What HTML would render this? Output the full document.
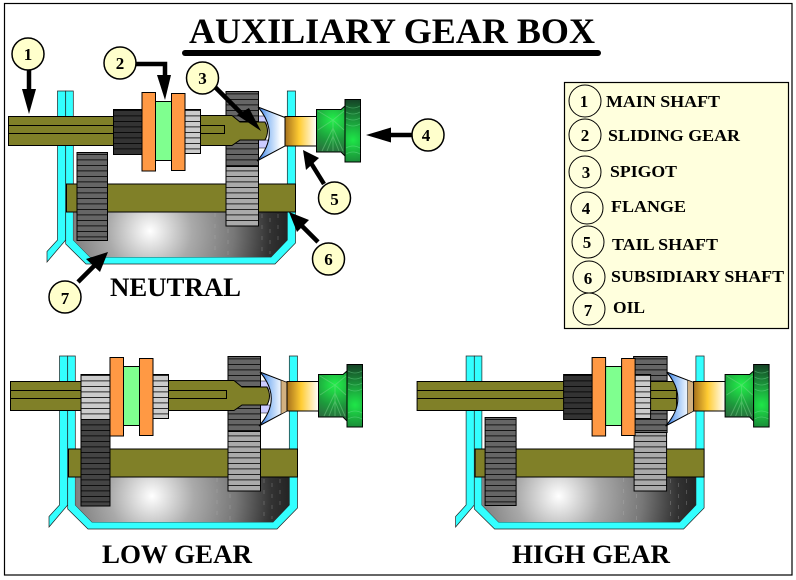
<!DOCTYPE html>
<html>
<head>
<meta charset="utf-8">
<style>
html,body{margin:0;padding:0;background:#fff;}
svg{display:block;}
text{font-family:"Liberation Serif",serif;font-weight:bold;fill:#000;}
</style>
</head>
<body>
<svg width="796" height="580" viewBox="0 0 796 580" xmlns="http://www.w3.org/2000/svg">
<defs>
  <pattern id="teeth" patternUnits="userSpaceOnUse" width="10" height="5.5">
    <rect x="0" y="0" width="10" height="0.8" fill="#000"/>
  </pattern>
  <radialGradient id="oilG" gradientUnits="userSpaceOnUse" cx="150" cy="231" r="140">
    <stop offset="0" stop-color="#ffffff"/>
    <stop offset="0.12" stop-color="#dddddd"/>
    <stop offset="0.3" stop-color="#aaaaaa"/>
    <stop offset="0.6" stop-color="#777777"/>
    <stop offset="0.85" stop-color="#333333"/>
    <stop offset="1" stop-color="#222222"/>
  </radialGradient>
  <linearGradient id="bellG" x1="0" y1="0" x2="1" y2="0">
    <stop offset="0" stop-color="#1a66dd"/>
    <stop offset="0.35" stop-color="#8fbcf5"/>
    <stop offset="0.85" stop-color="#ffffff"/>
    <stop offset="1" stop-color="#ffffff"/>
  </linearGradient>
  <linearGradient id="tailG" x1="0" y1="0" x2="1" y2="0">
    <stop offset="0" stop-color="#a5701c"/>
    <stop offset="0.45" stop-color="#ffcc33"/>
    <stop offset="1" stop-color="#ffffff"/>
  </linearGradient>
  <radialGradient id="fl1" gradientUnits="userSpaceOnUse" cx="333" cy="120" r="38">
    <stop offset="0" stop-color="#22f04a"/>
    <stop offset="0.55" stop-color="#1d9a3c"/>
    <stop offset="1" stop-color="#2f5f3f"/>
  </radialGradient>
  <radialGradient id="fl2" gradientUnits="userSpaceOnUse" cx="353" cy="140" r="42">
    <stop offset="0" stop-color="#1ee648"/>
    <stop offset="0.55" stop-color="#1a8a38"/>
    <stop offset="1" stop-color="#143c24"/>
  </radialGradient>

  <g id="case">
    <path d="M57.5 91H65.7V240L47 262V251.5L57.5 240Z" fill="#33ffff" stroke="#222" stroke-width="0.7"/>
    <path d="M65.7 91H73.3V240L90 257H271L287.3 240V91H295.5V243L275 264H86L65.7 244Z" fill="#33ffff" stroke="#222" stroke-width="0.7"/>
    <path d="M73.3 211H287.3V240L271 257H90L73.3 240Z" fill="url(#oilG)"/>
    <g stroke="#bbbbbb" stroke-width="0.6" stroke-dasharray="4 7" opacity="0.45">
      <line x1="215" y1="213" x2="215" y2="256"/>
      <line x1="228" y1="218" x2="228" y2="256"/>
      <line x1="262" y1="214" x2="262" y2="256"/>
      <line x1="270" y1="218" x2="270" y2="254"/>
      <line x1="278" y1="214" x2="278" y2="246"/>
    </g>
  </g>
  <g id="bigtop">
    <rect x="226" y="91.5" width="32.500" height="75" fill="#666"/>
    <rect x="226" y="91.5" width="32.500" height="75" fill="url(#teeth)"/>
    <rect x="226" y="91.5" width="32.500" height="75" fill="none" stroke="#000"/>
  </g>
  <g id="bigbottom">
    <rect x="226" y="166" width="32.500" height="60" fill="#aaa"/>
    <rect x="226" y="166" width="32.500" height="60" fill="url(#teeth)"/>
    <rect x="226" y="166" width="32.500" height="60" fill="none" stroke="#000"/>
  </g>
  <rect id="lay" x="66.5" y="184" width="229" height="28" fill="#808028" stroke="#000"/>
  <g id="bellShape">
    <path d="M258 107L285 117.5V146L257 161Q281 134 258 107Z" fill="url(#bellG)" stroke="#000" stroke-width="1"/>
  </g>
  <g id="peri">
    <rect x="258" y="116" width="10" height="8" fill="#ccccff" stroke="#000" stroke-width="0.5"/>
    <rect x="258" y="140" width="10" height="8" fill="#ccccff" stroke="#000" stroke-width="0.5"/>
  </g>
  <g id="output">
    <rect x="285" y="116.5" width="31.5" height="29.5" fill="url(#tailG)" stroke="#000"/>
    <path d="M316.500 109.5H341L345 106V156L341 152H316.500Z" fill="url(#fl1)" stroke="#000"/>
    <g stroke="#7fd88f" stroke-width="1" opacity="0.45" fill="none">
      <path d="M333 120L318 111M333 120L344 111M333 120L318 130M333 120L344 130M333 120V151M322 151L333 128L343 151M327 151L333 136L339 151"/>
    </g>
    <rect x="345" y="99.5" width="15.5" height="62.5" fill="url(#fl2)" stroke="#000"/>
    <g stroke="#7fe89f" stroke-width="0.8" opacity="0.4" fill="none">
      <path d="M346 106Q353 110 360 106M346 112Q353 116 360 112M346 118Q353 122 360 118M346 124Q353 128 360 124M346 154Q353 150 360 154M346 148Q353 144 360 148"/>
    </g>
  </g>
  <g id="sleeve">
    <rect x="142" y="92.5" width="13.5" height="78.5" fill="#ff9944" stroke="#000"/>
    <rect x="155.5" y="101.5" width="16" height="59" fill="#7fff8f" stroke="#000"/>
    <rect x="171.5" y="93.5" width="13.5" height="77" fill="#ff9944" stroke="#000"/>
  </g>
  <g id="darkgear">
    <rect x="113.5" y="109.5" width="29" height="45" fill="#333"/>
    <rect x="113.5" y="109.5" width="29" height="45" fill="url(#teeth)"/>
    <rect x="113.5" y="109.5" width="29" height="45" fill="none" stroke="#000"/>
  </g>
  <g id="lightgear">
    <rect x="185" y="109.5" width="15.5" height="44" fill="#ccc"/>
    <rect x="185" y="109.5" width="15.5" height="44" fill="url(#teeth)"/>
    <rect x="185" y="109.5" width="15.5" height="44" fill="none" stroke="#000"/>
  </g>
  <g id="lowergear">
    <rect x="77" y="152.5" width="30.5" height="88" fill="#666"/>
    <rect x="77" y="152.5" width="30.5" height="88" fill="url(#teeth)"/>
    <rect x="77" y="152.5" width="30.5" height="88" fill="none" stroke="#000"/>
  </g>
  <path id="shaftL" d="M8.5 116.5H114V145.5H8.5ZM8.5 125.5H114M8.5 133.5H114" fill="#808028" stroke="#000"/>
  <g id="shaftR">
    <path d="M160 115.5H232L240 122H265Q270 131 265 140H240L232 145.5H160Z" fill="#808028" stroke="#000"/>
    <path d="M160 125.5H224.5V133.5H160" fill="none" stroke="#000"/>
  </g>
</defs>

<rect x="4.5" y="3.5" width="787.5" height="571.5" fill="#fff" stroke="#000" stroke-width="1.2"/>

<text x="189" y="43" font-size="36" textLength="406" lengthAdjust="spacingAndGlyphs">AUXILIARY GEAR BOX</text>
<line x1="185" y1="53" x2="598" y2="53" stroke="#000" stroke-width="6" stroke-linecap="round"/>

<!-- NEUTRAL -->
<use href="#case"/>
<use href="#lay"/>
<use href="#bigbottom"/>
<use href="#lowergear"/>
<use href="#peri"/>
<use href="#bigtop"/>
<use href="#shaftL"/>
<use href="#shaftR"/>
<use href="#darkgear"/>
<use href="#lightgear"/>
<use href="#sleeve"/>
<use href="#bellShape"/>
<use href="#output"/>
<text x="110" y="296" font-size="26" textLength="131" lengthAdjust="spacingAndGlyphs">NEUTRAL</text>

<!-- LOW GEAR -->
<g transform="translate(2 265)">
  <use href="#case"/>
  <use href="#lay"/>
  <use href="#bigbottom"/>
  <use href="#peri"/>
  <use href="#bigtop"/>
  <use href="#shaftL"/>
  <use href="#shaftR"/>
  <rect x="79" y="154" width="29" height="87" fill="#444"/>
  <rect x="79" y="154" width="29" height="87" fill="url(#teeth)"/>
  <rect x="79" y="154" width="29" height="87" fill="none" stroke="#000"/>
  <rect x="79" y="109.5" width="29" height="45" fill="#ccc"/>
  <rect x="79" y="109.5" width="29" height="45" fill="url(#teeth)"/>
  <rect x="79" y="109.5" width="29" height="45" fill="none" stroke="#000"/>
  <g transform="translate(-34 0)"><use href="#sleeve"/><use href="#lightgear"/></g>
  <use href="#bellShape"/>
  <path d="M279 115.2L285 117.5V146L279 149.2Z" fill="#d2b080" stroke="#000" stroke-width="0.5"/>
  <use href="#output"/>
</g>
<text x="102" y="563" font-size="26" textLength="150" lengthAdjust="spacingAndGlyphs">LOW GEAR</text>

<!-- HIGH GEAR -->
<g transform="translate(408.6 265)">
  <use href="#case"/>
  <use href="#lay"/>
  <g transform="translate(-0.5 0)"><use href="#bigbottom"/></g>
  <rect x="76.5" y="152.5" width="31" height="88" fill="#666"/>
  <rect x="76.5" y="152.5" width="31" height="88" fill="url(#teeth)"/>
  <rect x="76.5" y="152.5" width="31" height="88" fill="none" stroke="#000"/>
  <rect x="225" y="91.5" width="33.500" height="76" fill="#666"/>
  <rect x="225" y="91.5" width="33.500" height="76" fill="url(#teeth)"/>
  <rect x="225" y="91.5" width="33.500" height="76" fill="none" stroke="#000"/>
  <path d="M8.5 116.5H268V145.5H8.5ZM8.5 125.5H268M8.5 133.5H268" fill="#808028" stroke="#000"/>
  <g transform="translate(41.500 0)"><use href="#darkgear"/></g>
  <g transform="translate(41.500 0)"><use href="#lightgear"/></g>
  <g transform="translate(41.500 0)"><use href="#sleeve"/></g>
  <use href="#bellShape"/>
  <path d="M279 115.2L285 117.5V146L279 149.2Z" fill="#d2b080" stroke="#000" stroke-width="0.5"/>
  <use href="#output"/>
</g>
<text x="512" y="563" font-size="26" textLength="158" lengthAdjust="spacingAndGlyphs">HIGH GEAR</text>

<!-- Arrows -->
<g stroke="#000" stroke-width="4.5" fill="none">
  <line x1="29" y1="68" x2="29" y2="96"/>
  <path d="M134 64H165V84"/>
  <line x1="214" y1="86" x2="246" y2="118"/>
  <line x1="412" y1="135" x2="386" y2="135"/>
  <line x1="324" y1="184" x2="311" y2="163"/>
  <line x1="318" y1="242" x2="301" y2="225"/>
  <line x1="78" y1="282" x2="95" y2="265"/>
</g>
<g fill="#000">
  <path d="M22 89H36L29 114Z"/>
  <path d="M157 75H171L165 100Z"/>
  <path d="M237 115L249 108L261 131Z"/>
  <path d="M366 135L391 127.5V142.5Z"/>
  <path d="M303 150L319 158L306 170Z"/>
  <path d="M289 212L309 220L297 232Z"/>
  <path d="M108 252L100 272L86 259Z"/>
</g>

<!-- Callouts -->
<g fill="#ffffcc" stroke="#000" stroke-width="1.5">
  <circle cx="28" cy="54" r="16"/>
  <circle cx="120" cy="63" r="16"/>
  <circle cx="202.500" cy="78" r="16"/>
  <circle cx="428" cy="135" r="16"/>
  <circle cx="334.500" cy="198" r="16"/>
  <circle cx="328.500" cy="259" r="16"/>
  <circle cx="65" cy="297" r="16"/>
</g>
<g font-size="17" text-anchor="middle">
  <text x="28" y="60">1</text>
  <text x="120" y="69">2</text>
  <text x="202.500" y="84">3</text>
  <text x="426" y="141">4</text>
  <text x="334.500" y="205">5</text>
  <text x="328.500" y="265">6</text>
  <text x="65" y="304">7</text>
</g>

<!-- Legend -->
<rect x="564.500" y="82.500" width="224" height="246" fill="#ffffdd" stroke="#000" stroke-width="1.2"/>
<g fill="none" stroke="#000" stroke-width="1">
  <circle cx="585" cy="101" r="16"/>
  <circle cx="585" cy="135" r="16"/>
  <circle cx="585" cy="172" r="16"/>
  <circle cx="587" cy="208" r="16"/>
  <circle cx="588" cy="242" r="16"/>
  <circle cx="589" cy="277" r="16"/>
  <circle cx="589" cy="309" r="16"/>
</g>
<g font-size="17" text-anchor="middle">
  <text x="584" y="107">1</text>
  <text x="585" y="141">2</text>
  <text x="586" y="178">3</text>
  <text x="586" y="214">4</text>
  <text x="587" y="248">5</text>
  <text x="588" y="284">6</text>
  <text x="588" y="316">7</text>
</g>
<g font-size="17">
  <text x="606" y="107" textLength="114" lengthAdjust="spacingAndGlyphs">MAIN SHAFT</text>
  <text x="608" y="141" textLength="132" lengthAdjust="spacingAndGlyphs">SLIDING GEAR</text>
  <text x="610" y="177" textLength="67" lengthAdjust="spacingAndGlyphs">SPIGOT</text>
  <text x="611" y="212" textLength="75" lengthAdjust="spacingAndGlyphs">FLANGE</text>
  <text x="612" y="250" textLength="106" lengthAdjust="spacingAndGlyphs">TAIL SHAFT</text>
  <text x="611" y="282" textLength="173" lengthAdjust="spacingAndGlyphs">SUBSIDIARY SHAFT</text>
  <text x="613" y="313" textLength="32" lengthAdjust="spacingAndGlyphs">OIL</text>
</g>
</svg>
</body>
</html>
